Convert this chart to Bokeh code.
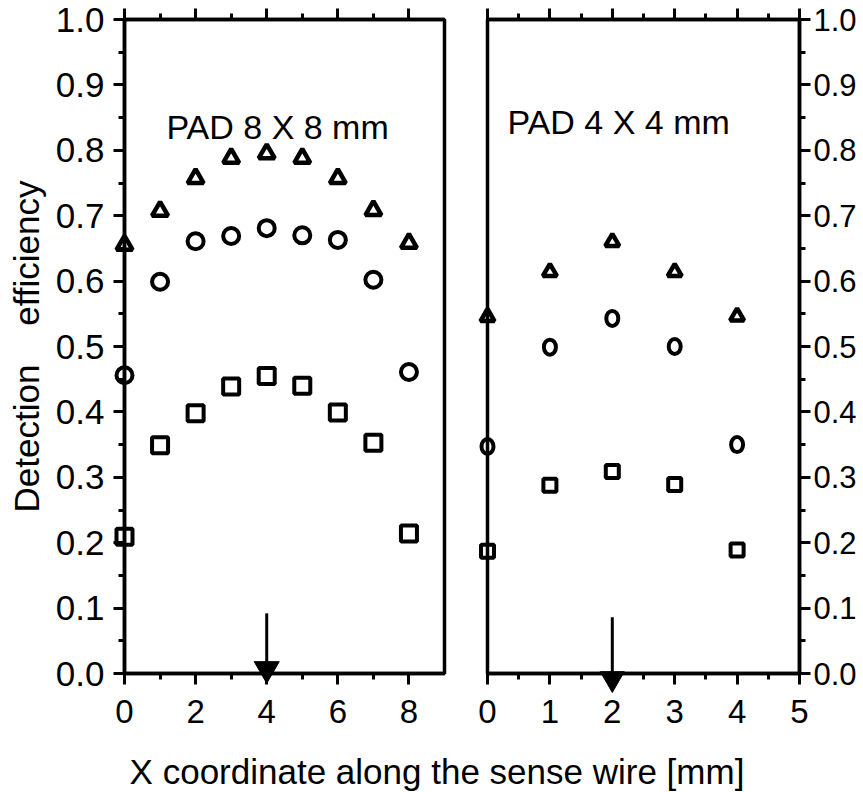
from bokeh.plotting import figure
from bokeh.layouts import row, column
from bokeh.models import (Range1d, FixedTicker, PrintfTickFormatter, LinearAxis, Label)
from bokeh.embed import file_html
from bokeh.resources import INLINE

FONT = "Liberation Sans"

# ---- PAD 8 x 8 mm ----
x_pad8 = [0, 1, 2, 3, 4, 5, 6, 7, 8]
tri_pad8 = [0.655, 0.707, 0.757, 0.788, 0.795, 0.788, 0.757, 0.708, 0.658]
circ_pad8 = [0.456, 0.599, 0.661, 0.669, 0.681, 0.670, 0.663, 0.602, 0.461]
sq_pad8 = [0.209, 0.349, 0.398, 0.439, 0.455, 0.440, 0.399, 0.353, 0.214]

# ---- PAD 4 x 4 mm ----
x_pad4 = [0, 1, 2, 3, 4]
tri_pad4 = [0.545, 0.614, 0.660, 0.614, 0.546]
circ_pad4 = [0.347, 0.499, 0.543, 0.500, 0.350]
sq_pad4 = [0.187, 0.288, 0.309, 0.289, 0.189]

# axis ticks
y_ticks = [0.0, 0.1, 0.2, 0.3, 0.4, 0.5, 0.6, 0.7, 0.8, 0.9, 1.0]
y_minor = [0.05, 0.15, 0.25, 0.35, 0.45, 0.55, 0.65, 0.75, 0.85, 0.95]
x_ticks_pad8 = [0, 2, 4, 6, 8]
x_minor_pad8 = [1, 3, 5, 7]
x_ticks_pad4 = [0, 1, 2, 3, 4, 5]
x_minor_pad4 = [0.5, 1.5, 2.5, 3.5, 4.5]

# wire position arrows: x, y_start, y_tip
arrow_pad8 = (4, 0.092, -0.015)
arrow_pad4 = (2, 0.086, -0.029)

title_pad8 = "PAD 8 X 8 mm"
title_pad4 = "PAD 4 X 4 mm"
y_title = "Detection\u00a0\u00a0\u00a0\u00a0efficiency"
x_title = "X coordinate along the sense wire [mm]"

FRAME_TOP = 19
FRAME_H = 654
LINE_W = 3.5


def style_axis(ax, ticks, minor, labels=True, size="35px", standoff=12):
    ax.ticker = FixedTicker(ticks=ticks, minor_ticks=minor)
    ax.axis_line_width = LINE_W
    ax.axis_line_color = "black"
    ax.major_tick_line_width = 3
    ax.minor_tick_line_width = 3
    ax.major_tick_line_color = "black"
    ax.minor_tick_line_color = "black"
    ax.major_tick_out = 11
    ax.major_tick_in = 0
    ax.minor_tick_out = 6
    ax.minor_tick_in = 0
    ax.major_label_text_font = FONT
    ax.major_label_text_font_size = size
    ax.major_label_text_color = "black"
    ax.major_label_standoff = standoff
    if not labels:
        ax.major_label_text_font_size = "0px"
        ax.major_label_text_color = None
        ax.major_label_standoff = 0


def base_fig(x_end, border_left, border_right, y_loc, frame_w):
    p = figure(frame_width=frame_w, frame_height=FRAME_H,
               x_range=Range1d(0, x_end), y_range=Range1d(0, 1),
               min_border_left=border_left, min_border_right=border_right,
               min_border_top=FRAME_TOP, min_border_bottom=68,
               y_axis_location=y_loc, x_axis_location="below",
               output_backend="svg", toolbar_location=None)
    p.grid.visible = False
    p.outline_line_color = "black"
    p.outline_line_width = LINE_W
    p.background_fill_color = "white"
    p.border_fill_color = "white"
    return p


def add_arrow(p, a, head_size):
    # shaft down to the head, head is a filled downward triangle whose tip sits at y_tip
    x, y0, y_tip = a
    head_h = head_size * 0.866
    y_head = y_tip + (2.0 / 3.0) * head_h / FRAME_H
    p.segment(x0=[x], y0=[y0], x1=[x], y1=[y_head], line_width=3,
              line_color="black", level="overlay")
    p.scatter([x], [y_head], marker="inverted_triangle", size=head_size,
              fill_color="black", line_color="black", line_width=1,
              level="overlay")


# ---------- left panel ----------
p1 = base_fig(9, 124, 22, "left", 320)
style_axis(p1.xaxis[0], x_ticks_pad8, x_minor_pad8, size="33px", standoff=15)
style_axis(p1.yaxis[0], y_ticks, y_minor, size="35px", standoff=9)
p1.yaxis[0].formatter = PrintfTickFormatter(format="%.1f")
p1.yaxis[0].axis_label = y_title
p1.yaxis[0].axis_label_text_font = FONT
p1.yaxis[0].axis_label_text_font_size = "35px"
p1.yaxis[0].axis_label_text_font_style = "normal"
p1.yaxis[0].axis_label_text_color = "black"
p1.yaxis[0].axis_label_standoff = 7
top1 = LinearAxis()
style_axis(top1, x_ticks_pad8, x_minor_pad8, labels=False)
p1.add_layout(top1, "above")

p1.scatter(x_pad8, tri_pad8, marker="triangle", size=16, fill_color=None,
           line_color="black", line_width=4.5, level="overlay")
p1.scatter(x_pad8, circ_pad8, marker="circle", size=16, fill_color=None,
           line_color="black", line_width=4, level="overlay")
p1.scatter(x_pad8, sq_pad8, marker="square", size=16, fill_color=None,
           line_color="black", line_width=4, level="overlay")
p1.add_layout(Label(x=1.18, y=0.835, text=title_pad8, text_font=FONT,
                    text_font_size="34px", text_color="black",
                    text_baseline="middle"))
add_arrow(p1, arrow_pad8, 25)

# ---------- right panel ----------
p2 = base_fig(5, 21, 64, "right", 312)
style_axis(p2.xaxis[0], x_ticks_pad4, x_minor_pad4, size="33px", standoff=15)
style_axis(p2.yaxis[0], y_ticks, y_minor, size="31px", standoff=3)
p2.yaxis[0].formatter = PrintfTickFormatter(format="%.1f")
top2 = LinearAxis()
style_axis(top2, x_ticks_pad4, x_minor_pad4, labels=False)
p2.add_layout(top2, "above")

p2.scatter(x_pad4, tri_pad4, marker="triangle", size=14, fill_color=None,
           line_color="black", line_width=4.5, level="overlay")
p2.ellipse(x_pad4, circ_pad4, width=12, height=15, width_units="screen",
           height_units="screen", fill_color=None, line_color="black",
           line_width=4, level="overlay")
p2.scatter(x_pad4, sq_pad4, marker="square", size=13, fill_color=None,
           line_color="black", line_width=4, level="overlay")
p2.add_layout(Label(x=0.32, y=0.843, text=title_pad4, text_font=FONT,
                    text_font_size="34px", text_color="black",
                    text_baseline="middle"))
add_arrow(p2, arrow_pad4, 24)

# ---------- shared x title ----------
p3 = figure(width=863, height=51, x_range=Range1d(0, 863), y_range=Range1d(0, 51),
            min_border=0, x_axis_location=None, y_axis_location=None,
            output_backend="svg", toolbar_location=None)
p3.grid.visible = False
p3.outline_line_color = None
p3.add_layout(Label(x=436.5, y=21, text=x_title, text_font=FONT,
                    text_font_size="35px", text_color="black",
                    text_align="center", text_baseline="middle"))

layout = column(row(p1, p2, spacing=0), p3, spacing=0)
open("out.html", "w").write(file_html(layout, INLINE))
